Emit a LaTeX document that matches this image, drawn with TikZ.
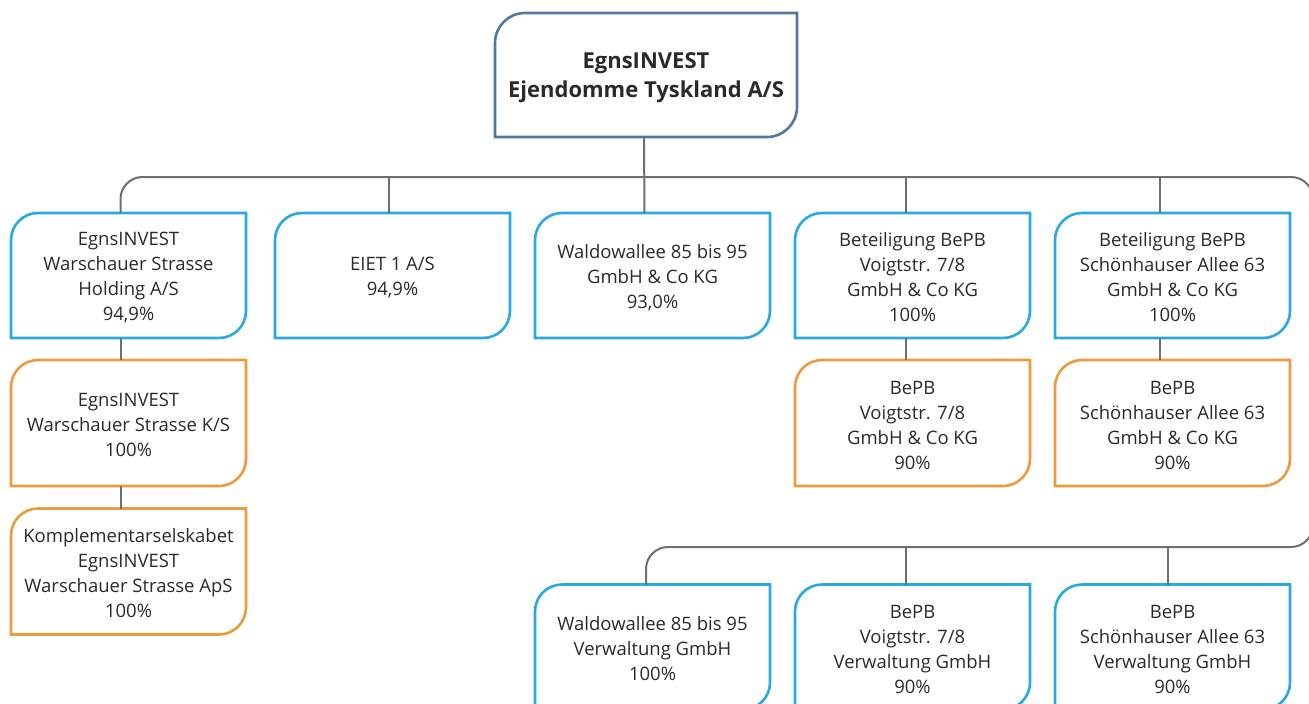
\documentclass[tikz,border=0pt]{standalone}
\usepackage{fontspec}
\setmainfont{Open Sans}
\usetikzlibrary{calc}
\definecolor{bblue}{HTML}{29A9E0}
\definecolor{borange}{HTML}{EC9A3C}
\definecolor{tblue}{HTML}{52789F}
\definecolor{conngray}{HTML}{6D6E71}
\definecolor{txt}{HTML}{2A2A2A}
\newcommand\myorgframe[3]{%
  \draw[#2, line width=2.6pt] (#1.west) [rounded corners=#3] -- (#1.north west) -- (#1.north) [sharp corners] -- (#1.north east) -- (#1.east) [rounded corners=#3] -- (#1.south east) -- (#1.south) [sharp corners] -- (#1.south west) -- cycle;}
\tikzset{
  ent/.style={minimum width=235pt, minimum height=125pt, inner sep=0pt, outer sep=0pt},
  lbl/.style={align=center, font=\fontsize{18.5}{25}\selectfont, text=txt, inner sep=0pt, yshift=-2pt},
  connl/.style={draw=conngray, line width=2pt}
}
\begin{document}
\begin{tikzpicture}[x=1pt,y=-1pt]
\useasboundingbox (0,0) rectangle (1309,704);
\clip (0,0) rectangle (1309,704);
% nodes
\node[ent, minimum width=302pt, minimum height=124pt, label={[lbl, yshift=-1pt, font=\bfseries\fontsize{22}{29}\selectfont]center:{EgnsINVEST\\Ejendomme Tyskland A/S}}] (top) at (646,75) {};
\node[ent, label={[lbl]center:{EgnsINVEST\\Warschauer Strasse\\Holding A/S\\94,9\%}}] (b1) at (128.5,275.5) {};
\node[ent, label={[lbl]center:{EIET 1 A/S\\94,9\%}}] (b2) at (392.5,275.5) {};
\node[ent, label={[lbl]center:{Waldowallee 85 bis 95\\GmbH \& Co KG\\93,0\%}}] (b3) at (652.5,275.5) {};
\node[ent, label={[lbl]center:{Beteiligung BePB\\Voigtstr. 7/8\\GmbH \& Co KG\\100\%}}] (b4) at (912.5,275.5) {};
\node[ent, label={[lbl]center:{Beteiligung BePB\\Schönhauser Allee 63\\GmbH \& Co KG\\100\%}}] (b5) at (1172.5,275.5) {};
\node[ent, minimum height=126pt, label={[lbl]center:{EgnsINVEST\\Warschauer Strasse K/S\\100\%}}] (c1) at (128.5,423) {};
\node[ent, minimum height=126pt, label={[lbl]center:{BePB\\Voigtstr. 7/8\\GmbH \& Co KG\\90\%}}] (c4) at (912.5,423) {};
\node[ent, minimum height=126pt, label={[lbl]center:{BePB\\Schönhauser Allee 63\\GmbH \& Co KG\\90\%}}] (c5) at (1172.5,423) {};
\node[ent, minimum height=126pt, label={[lbl]center:{Komplementarselskabet\\EgnsINVEST\\Warschauer Strasse ApS\\100\%}}] (d1) at (128.5,571.5) {};
\node[ent, label={[lbl]center:{Waldowallee 85 bis 95\\Verwaltung GmbH\\100\%}}] (e3) at (652.5,647) {};
\node[ent, label={[lbl]center:{BePB\\Voigtstr. 7/8\\Verwaltung GmbH\\90\%}}] (e4) at (912.5,647) {};
\node[ent, label={[lbl]center:{BePB\\Schönhauser Allee 63\\Verwaltung GmbH\\90\%}}] (e5) at (1172.5,647) {};
% frames
\myorgframe{top}{tblue}{30pt}
\foreach \n in {b1,b2,b3,b4,b5,e3,e4,e5}{\myorgframe{\n}{bblue}{27pt}}
\foreach \n in {c1,c4,c5,d1}{\myorgframe{\n}{borange}{27pt}}
% connectors
\coordinate (bus) at (0,177);
\coordinate (rt) at (1313,177);
\coordinate (rb) at (1313,547);
\coordinate (s1) at ([xshift=-8pt]b1.north);
\coordinate (s2) at ([xshift=-4pt]b2.north);
\coordinate (s3) at ([xshift=-8pt]b3.north);
\coordinate (s4) at ([xshift=-7pt]b4.north);
\coordinate (s5) at ([xshift=-13pt]b5.north);
\coordinate (t3) at ([xshift=-6.5pt]e3.north);
\coordinate (t4) at ([xshift=-6.5pt]e4.north);
\coordinate (t5) at ([xshift=-4.5pt]e5.north);
\draw[connl, rounded corners=22pt] (s1) -- (s1 |- bus) -- (rt) -- (rb) -- (t3 |- rb) -- (t3);
\draw[connl] ([xshift=-2pt]top.south) -- (s3);
\draw[connl] (s2) -- (s2 |- bus);
\draw[connl] (s4) -- (s4 |- bus);
\draw[connl] (s5) -- (s5 |- bus);
\draw[connl] (t4) -- (t4 |- rb);
\draw[connl] (t5) -- (t5 |- rb);
\draw[connl] ([xshift=-8pt]b1.south) -- ([xshift=-8pt]c1.north);
\draw[connl] ([xshift=-8pt]c1.south) -- ([xshift=-8pt]d1.north);
\draw[connl] ([xshift=-7pt]b4.south) -- ([xshift=-7pt]c4.north);
\draw[connl] ([xshift=-13pt]b5.south) -- ([xshift=-13pt]c5.north);
\end{tikzpicture}
\end{document}
